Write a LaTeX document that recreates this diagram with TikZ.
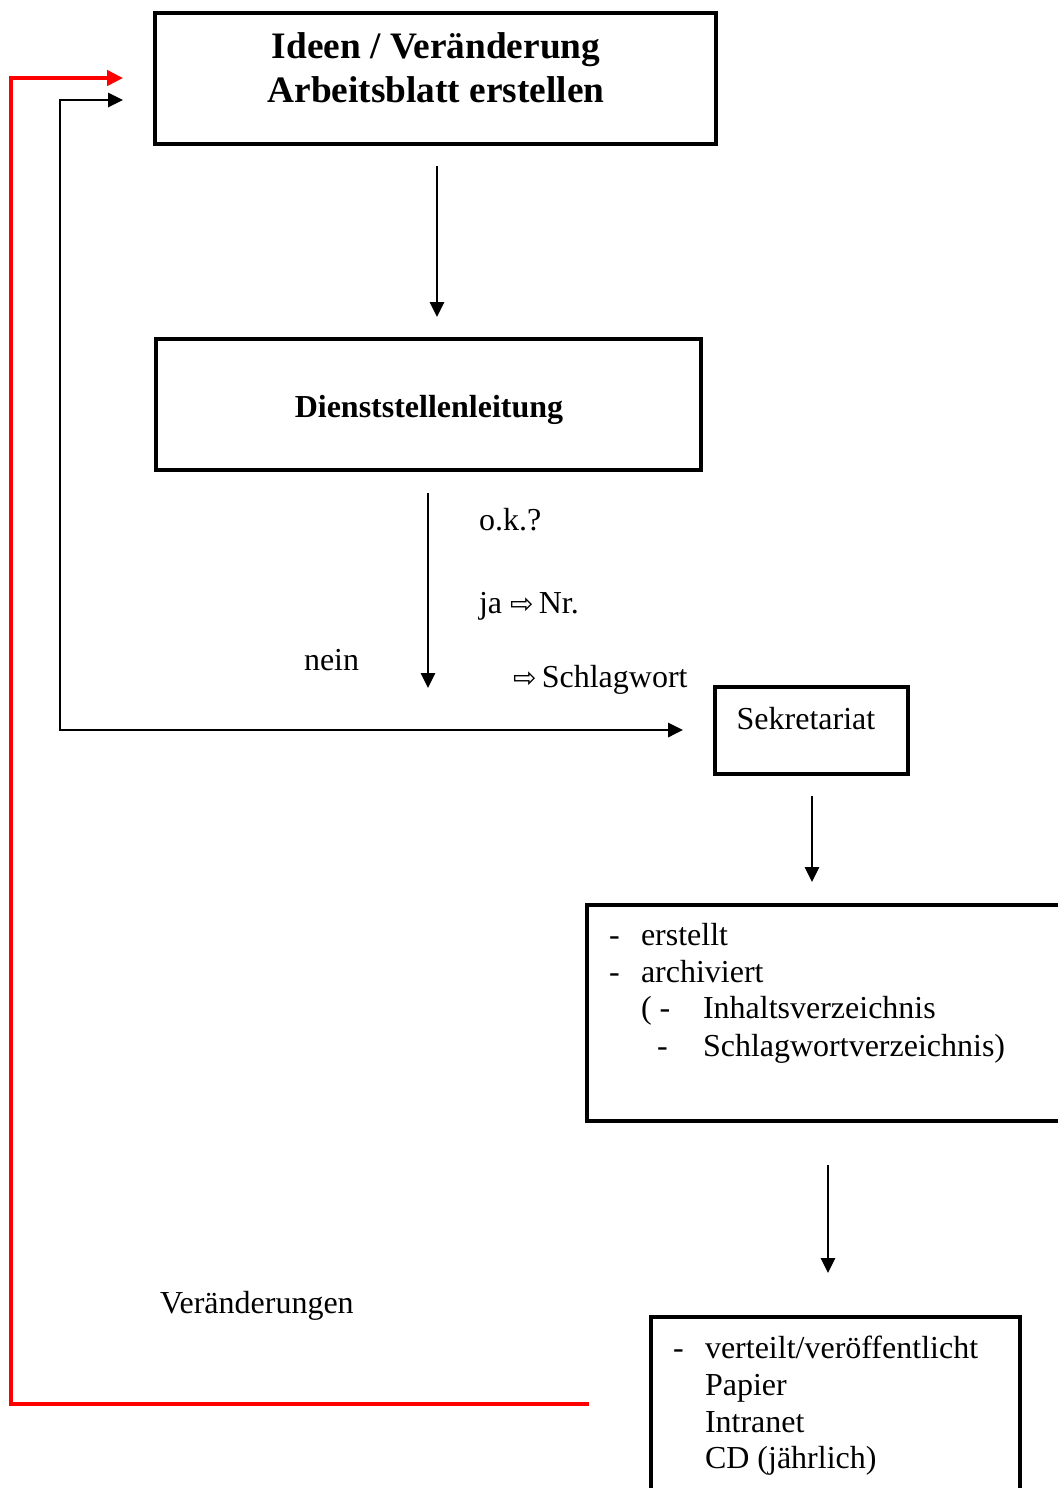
\documentclass[tikz,border=0pt]{standalone}
\usepackage{fontspec}
\setmainfont{Liberation Serif}
\newfontfamily\symfont{DejaVu Sans}
\usetikzlibrary{arrows.meta}
\tikzset{
  boxline/.style={draw=black, line width=1.45pt},
  tip/.style={},
  conn/.style={draw=black, line width=0.7pt, -{Triangle[length=5.6pt,width=5.4pt]}},
  redconn/.style={draw=red, line width=1.25pt, -{Triangle[length=6pt,width=5.8pt]}},
  txt/.style={inner sep=0pt, outer sep=0pt, font=\fontsize{12}{13.8}\selectfont},
  bold/.style={inner sep=0pt, outer sep=0pt, font=\fontsize{14}{16}\selectfont\bfseries},
}
\newcommand{\harrow}{{\symfont\fontsize{10.5}{11}\selectfont ⇨}}
\begin{document}
\begin{tikzpicture}[x=0.375pt,y=-0.375pt]
\useasboundingbox (0,0) rectangle (1058,1488);
\clip (0,0) rectangle (1058,1488);
% box 1
\draw[boxline] (155,13) rectangle (716,144);
\node[bold, anchor=base] (t1) at (436,58) {Ideen / Veränderung};
\node[bold, anchor=base] (t2) at (436,102) {Arbeitsblatt erstellen};
\coordinate (b1s) at (437,166);
\coordinate (b1e) at (437,317);
\draw[conn] (b1s) -- (b1e);
% box 2
\draw[boxline] (156,339) rectangle (701,470);
\node[bold, font=\fontsize{12}{14}\selectfont\bfseries, anchor=base] (dl) at (429,417) {Dienststellenleitung};
\coordinate (b2s) at (428,493);
\coordinate (b2e) at (428,688);
\draw[conn] (b2s) -- (b2e);
\node[txt, anchor=base west] (ok) at (479,530) {o.k.?};
\node[txt, anchor=base west] (ja) at (479,613) {ja \harrow\,Nr.};
\node[txt, anchor=base west] (sw) at (513,687) {\harrow\,Schlagwort};
\node[txt, anchor=base west] (nein) at (304,670) {nein};
% feedback (nein / ja)
\coordinate (fbTop) at (123,100);
\coordinate (fbC1) at (60,100);
\coordinate (fbC2) at (60,730);
\coordinate (fbEnd) at (683,730);
\draw[conn, {Triangle[length=5.6pt,width=5.4pt]}-{Triangle[length=5.6pt,width=5.4pt]}] (fbTop) -- (fbC1) -- (fbC2) -- (fbEnd);
% Sekretariat
\draw[boxline] (715,687) rectangle (908,774);
\node[txt, anchor=base] (sek) at (806,729) {Sekretariat};
\coordinate (b3s) at (812,796);
\coordinate (b3e) at (812,882);
\draw[conn] (b3s) -- (b3e);
% box 3
\draw[boxline] (587,905) rectangle (1075,1121);
\node[txt, anchor=base west] (d1) at (609,945) {-};
\node[txt, anchor=base west] (l1) at (641,945) {erstellt};
\node[txt, anchor=base west] (d2) at (609,982) {-};
\node[txt, anchor=base west] (l2) at (641,982) {archiviert};
\node[txt, anchor=base west] (d3) at (641,1018) {( -};
\node[txt, anchor=base west] (l3) at (703,1018) {Inhaltsverzeichnis};
\node[txt, anchor=base west] (d4) at (657,1056) {-};
\node[txt, anchor=base west] (l4) at (703,1056) {Schlagwortverzeichnis)};
\coordinate (b4s) at (828,1165);
\coordinate (b4e) at (828,1273);
\draw[conn] (b4s) -- (b4e);
% box 4
\draw[boxline] (651,1317) rectangle (1020,1510);
\node[txt, anchor=base west] (e0) at (673,1358) {-};
\node[txt, anchor=base west] (e1) at (705,1358) {verteilt/veröffentlicht};
\node[txt, anchor=base west] (e2) at (705,1395) {Papier};
\node[txt, anchor=base west] (e3) at (705,1432) {Intranet};
\node[txt, anchor=base west] (e4) at (705,1468) {CD (jährlich)};
% red feedback
\node[txt, anchor=base west] (ver) at (160,1313) {Veränderungen};
\coordinate (rStart) at (589,1404);
\coordinate (rC1) at (11,1404);
\coordinate (rC2) at (11,78);
\coordinate (rEnd) at (123,78);
\draw[redconn] (rStart) -- (rC1) -- (rC2) -- (rEnd);
\end{tikzpicture}
\end{document}
